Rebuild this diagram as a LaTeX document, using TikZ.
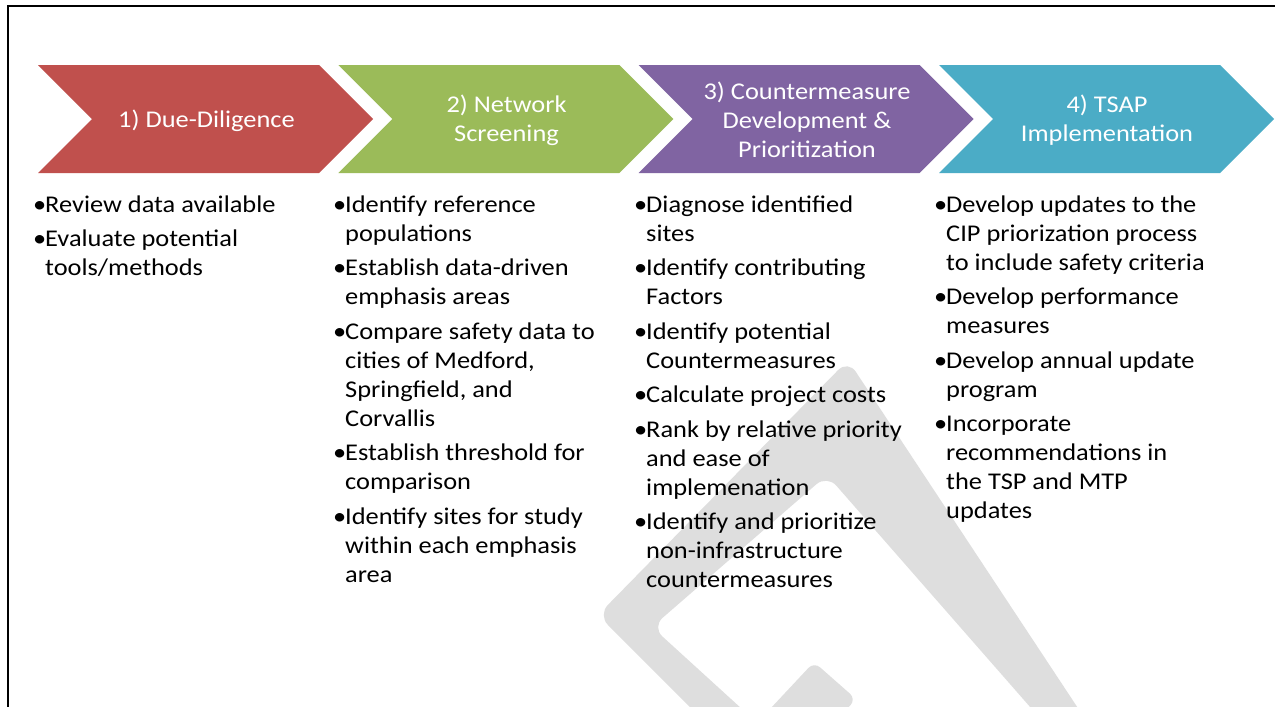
\documentclass[tikz,border=0pt]{standalone}
\usepackage{fontspec}
\setmainfont{Carlito}[FakeStretch=1.1]
\definecolor{cred}{HTML}{C0504D}
\definecolor{cgreen}{HTML}{9BBB59}
\definecolor{cpurple}{HTML}{8064A2}
\definecolor{cteal}{HTML}{4BACC6}
\definecolor{wmark}{HTML}{DEDEDE}
\newcommand{\bul}{\makebox[12pt][l]{•}}
\newcommand{\ind}{\hspace*{12pt}}
\newcommand{\chevshape}[2]{\fill[#2] (#1,65) -- ++(281,0) -- ++(54,54) -- ++(-54,54) -- ++(-281,0) -- ++(54,-54) -- cycle;}
\begin{document}
\begin{tikzpicture}[x=1pt,y=-1pt,
  chevtext/.style={text=white, align=center, inner sep=0pt, font=\fontsize{24}{29}\selectfont},
  coltext/.style={text=black, align=left, inner sep=0pt, anchor=north west, font=\fontsize{24}{29}\selectfont}]
\useasboundingbox (0,0) rectangle (1275,707);
\fill[white] (0,0) rectangle (1275,707);
% watermark
\fill[wmark, rounded corners=14pt] (848,360) -- (1099,740) -- (1059,740) -- (827,475) -- (652,627) -- (776,740) -- (723,740) -- (598,615) -- cycle;
\fill[wmark, rounded corners=8pt] (741,740) -- (814,662) -- (856,699) -- (819,740) -- cycle;
% frame
\draw[line width=2pt] (7.7,707) -- (7.7,6) -- (1275,6);
% chevrons
\chevshape{38}{cred}
\chevshape{338.3}{cgreen}
\chevshape{638.7}{cpurple}
\chevshape{939}{cteal}
\node[chevtext] (h1) at (206.5,121) {1) Due-Diligence};
\node[chevtext] (h2) at (506.5,120) {2) Network\\Screening};
\node[chevtext] (h3) at (807,119.5) {3) Countermeasure\\Development \&\\Prioritization};
\node[chevtext] (h4) at (1107,120) {4) TSAP\\Implementation};
% columns
\node[coltext] (c1) at (33,192) {\rule{0pt}{20pt}\bul Review data available\\[5.5pt]
\bul Evaluate potential\\
\ind tools/methods};
\node[coltext] (c2) at (333,192) {\rule{0pt}{20pt}\bul Identify reference\\
\ind populations\\[5.5pt]
\bul Establish data-driven\\
\ind emphasis areas\\[5.5pt]
\bul Compare safety data to\\
\ind cities of Medford,\\
\ind Springfield, and\\
\ind Corvallis\\[5.5pt]
\bul Establish threshold for\\
\ind comparison\\[5.5pt]
\bul Identify sites for study\\
\ind within each emphasis\\
\ind area};
\node[coltext] (c3) at (634,192) {\rule{0pt}{20pt}\bul Diagnose identified\\
\ind sites\\[5.5pt]
\bul Identify contributing\\
\ind Factors\\[5.5pt]
\bul Identify potential\\
\ind Countermeasures\\[5.5pt]
\bul Calculate project costs\\[5.5pt]
\bul Rank by relative priority\\
\ind and ease of\\
\ind implemenation\\[5.5pt]
\bul Identify and prioritize\\
\ind non-infrastructure\\
\ind countermeasures};
\node[coltext] (c4) at (934,192) {\rule{0pt}{20pt}\bul Develop updates to the\\
\ind CIP priorization process\\
\ind to include safety criteria\\[5.5pt]
\bul Develop performance\\
\ind measures\\[5.5pt]
\bul Develop annual update\\
\ind program\\[5.5pt]
\bul Incorporate\\
\ind recommendations in\\
\ind the TSP and MTP\\
\ind updates};
\end{tikzpicture}
\end{document}
